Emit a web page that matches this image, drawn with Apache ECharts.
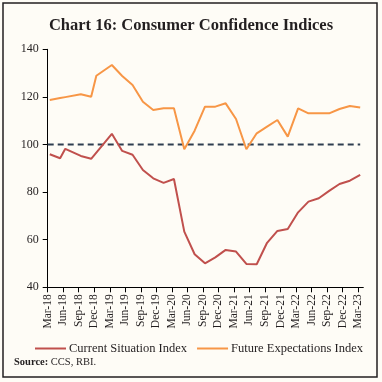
<!DOCTYPE html>
<html><head><meta charset="utf-8">
<script src="https://cdn.jsdelivr.net/npm/echarts@6/dist/echarts.min.js"></script>
<style>html,body{margin:0;padding:0;background:#fefcf6;}#c{width:382px;height:382px;}</style>
</head><body><div id="c"></div>
<script>
// Survey rounds (year-month)
const dates = ["2018-03","2018-05","2018-06","2018-09","2018-11","2018-12","2019-03","2019-05","2019-07","2019-09","2019-11","2020-01","2020-03","2020-05","2020-07","2020-09","2020-11","2021-01","2021-03","2021-05","2021-07","2021-09","2021-11","2022-01","2022-03","2022-05","2022-07","2022-09","2022-11","2023-01","2023-03"];
const currentSituation = [95.9,94.2,98.2,95.2,94.0,null,104.5,97.3,95.7,89.3,85.8,83.9,85.5,63.4,53.9,50.1,52.6,55.7,55.0,49.8,49.7,58.7,63.7,64.5,71.5,76.0,77.4,80.5,83.4,84.8,87.2];
const futureExpectations = [118.7,119.5,119.9,121.1,120.1,128.9,133.4,128.8,125.0,118.0,114.5,115.2,115.2,98.0,105.8,115.9,115.9,117.3,110.7,98.0,104.7,107.5,110.3,103.3,115.2,113.1,113.1,113.1,114.9,116.2,115.5];
const neutralLevel = 100;
const monthNames = ["Jan","Feb","Mar","Apr","May","Jun","Jul","Aug","Sep","Oct","Nov","Dec"];
const seriesNames = ["Current Situation Index","Future Expectations Index"];

function monthIndex(d){ const [y,m]=d.split("-").map(Number); return (y-2018)*12+(m-3)+0.4; }
function labelFor(i){ const t=Math.round(i)+2; const y=2018+Math.floor(t/12); return monthNames[t%12]+"-"+String(y).slice(2); }
function pairs(vals){ return dates.map((d,i)=>[monthIndex(d), vals[i]]); }

const chart = echarts.init(document.getElementById('c'), null, {renderer:'canvas'});
const serif = "'Liberation Serif', 'DejaVu Serif', serif";
chart.setOption({
  backgroundColor:'#fefcf6',
  animation:false,
  title:{text:'Chart 16: Consumer Confidence Indices', left:'center', top:12,
    textStyle:{fontFamily:serif, fontWeight:'bold', fontSize:16.5, color:'#231f20'}},
  grid:{left:47.7, right:18.7, top:49.3, bottom:94.7, containLabel:false},
  legend:{left:30, top:337, width:360, itemWidth:31, itemHeight:2, itemGap:10, icon:'rect',
    textStyle:{fontFamily:serif, fontSize:12.5, color:'#231f20', padding:[0,0,0,-2]},
    data:seriesNames},
  xAxis:{type:'value', min:0, max:61, interval:3,
    axisLine:{lineStyle:{color:'#000', width:1}},
    axisTick:{show:true, length:5, lineStyle:{color:'#000'}},
    splitLine:{show:false},
    axisLabel:{rotate:90, fontFamily:serif, fontSize:11.5, color:'#231f20', margin:7,
      formatter:(v)=> v>60.5 ? '' : labelFor(v), showMaxLabel:false}},
  yAxis:{type:'value', min:40, max:140, interval:20,
    axisLine:{show:true, lineStyle:{color:'#000', width:1}},
    axisTick:{show:true, length:5, lineStyle:{color:'#000'}},
    splitLine:{show:false},
    axisLabel:{fontFamily:serif, fontSize:12, color:'#231f20', margin:9}},
  series:[
    {name:seriesNames[0], type:'line', data:pairs(currentSituation), connectNulls:true,
      symbol:'none', lineStyle:{color:'#c0504d', width:2}, itemStyle:{color:'#c0504d'}},
    {name:seriesNames[1], type:'line', data:pairs(futureExpectations), connectNulls:true,
      symbol:'none', lineStyle:{color:'#f79646', width:2}, itemStyle:{color:'#f79646'}},
    {name:'ref', type:'line', data:[[0,neutralLevel],[monthIndex(dates[dates.length-1]),neutralLevel]],
      symbol:'none', lineStyle:{color:'#2f3e50', width:2, type:[6,4]}, z:1}
  ],
  graphic:[
    {type:'rect', shape:{x:3,y:3,width:374,height:374}, style:{fill:'none', stroke:'#231f20', lineWidth:1.5}, silent:true},
    {type:'text', left:14, top:357, style:{text:'{b|Source:} CCS, RBI.', fontFamily:serif, fontSize:10.5, fill:'#231f20',
      rich:{b:{fontFamily:serif, fontWeight:'bold', fontSize:10.5, fill:'#231f20'}}}}
  ]
});
</script></body></html>
